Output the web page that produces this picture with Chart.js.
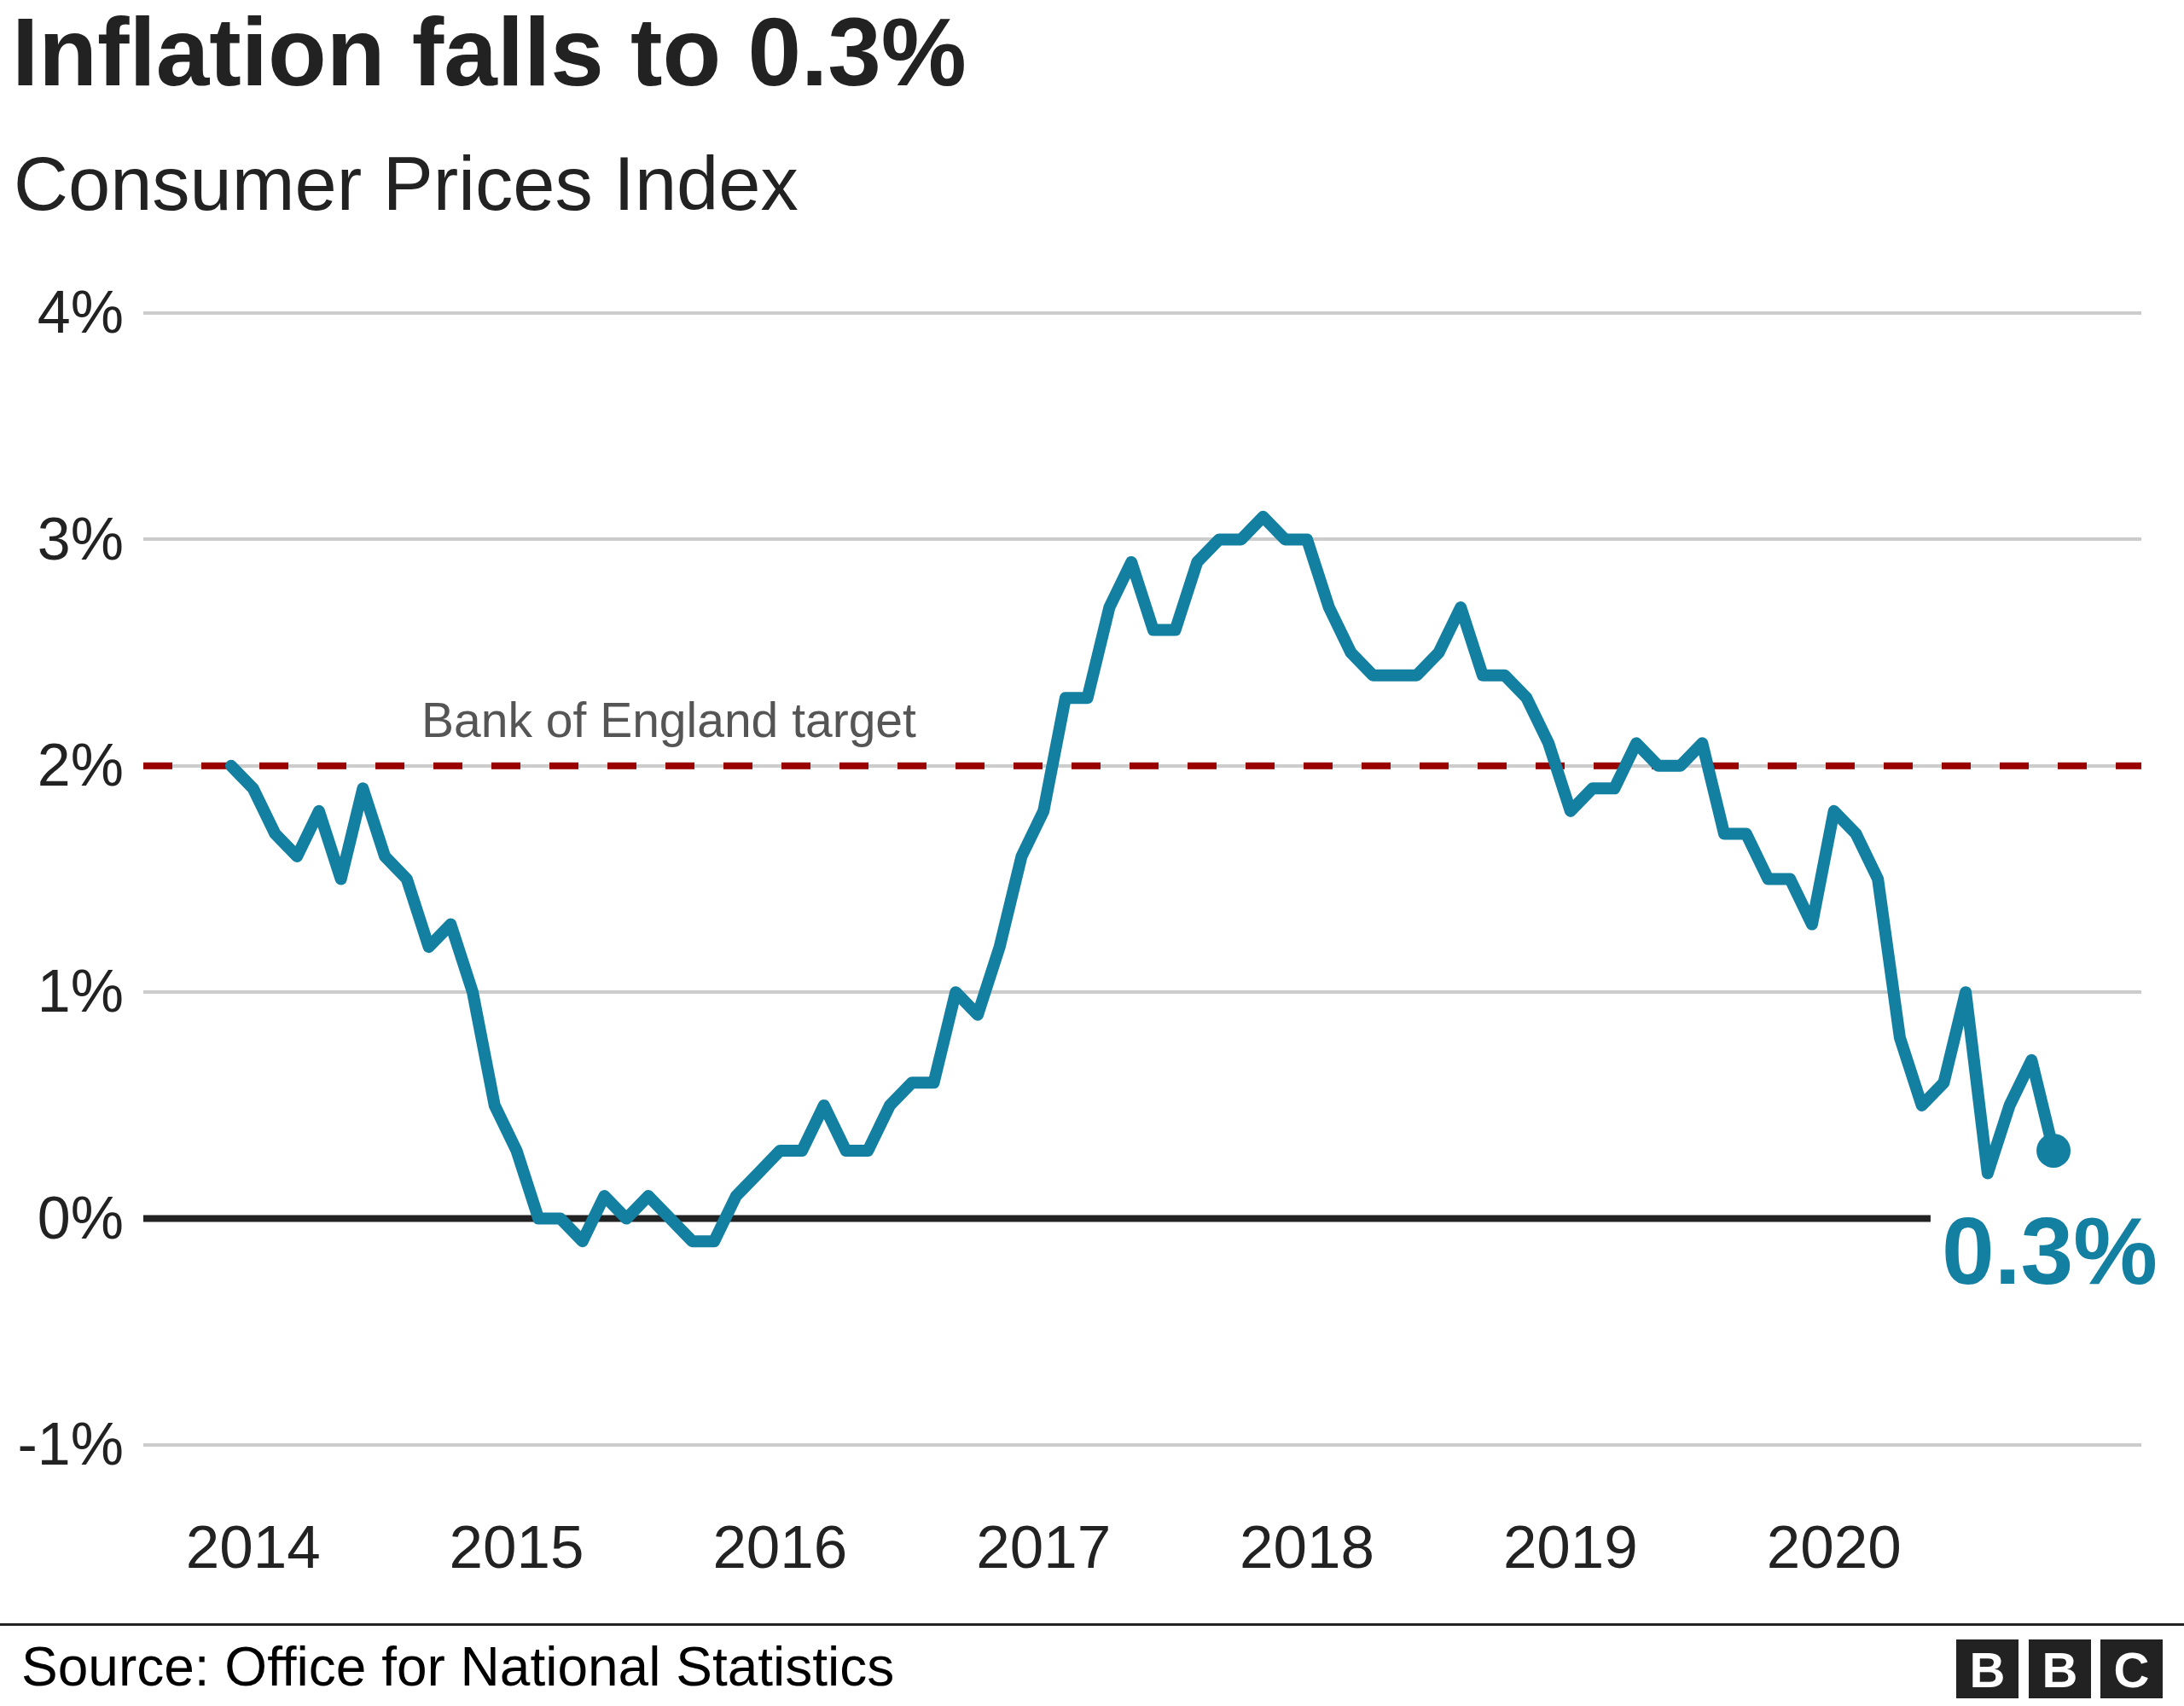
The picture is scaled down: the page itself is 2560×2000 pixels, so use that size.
<!DOCTYPE html>
<html>
<head>
<meta charset="utf-8">
<script src="https://cdn.jsdelivr.net/npm/chart.js@4.4.1/dist/chart.umd.min.js"></script>
<style>
  html, body { margin: 0; padding: 0; background: #ffffff; }
  body { width: 2560px; height: 2000px; position: relative; overflow: hidden;
         font-family: "Liberation Sans", Arial, Helvetica, sans-serif; }
  #wrap { position: absolute; left: 0; top: 0; width: 2560px; height: 2000px; }
  .t { position: absolute; white-space: nowrap; line-height: 1; }
  .bbc { position: absolute; top: 1922px; width: 73px; height: 69px; background: #222222;
         color: #ffffff; font-weight: bold; font-size: 58px; line-height: 71px; text-align: center; }
</style>
</head>
<body>
<div id="wrap"><canvas id="c" width="2560" height="2000"></canvas></div>

<div class="t" style="left:14px; top:5px; font-size:112.5px; font-weight:bold; color:#222222;">Inflation falls to 0.3%</div>
<div class="t" style="left:16px; top:172px; font-size:88.5px; color:#222222;">Consumer Prices Index</div>
<div class="t" style="left:494px; top:816px; font-size:57px; color:#555555;">Bank of England target</div>
<div class="t" style="left:2276px; top:1412px; font-size:111px; font-weight:bold; color:#1380A1;">0.3%</div>

<div style="position:absolute; left:0; top:1903px; width:2560px; height:3px; background:#222222;"></div>
<div class="t" style="left:25px; top:1922px; font-size:64px; color:#000000;">Source: Office for National Statistics</div>
<div class="bbc" style="left:2293px;">B</div>
<div class="bbc" style="left:2378px;">B</div>
<div class="bbc" style="left:2462px;">C</div>

<script>
// ---- data ----
const months = [
  'Dec 2013',
  'Jan 2014','Feb 2014','Mar 2014','Apr 2014','May 2014','Jun 2014','Jul 2014','Aug 2014','Sep 2014','Oct 2014','Nov 2014','Dec 2014',
  'Jan 2015','Feb 2015','Mar 2015','Apr 2015','May 2015','Jun 2015','Jul 2015','Aug 2015','Sep 2015','Oct 2015','Nov 2015','Dec 2015',
  'Jan 2016','Feb 2016','Mar 2016','Apr 2016','May 2016','Jun 2016','Jul 2016','Aug 2016','Sep 2016','Oct 2016','Nov 2016','Dec 2016',
  'Jan 2017','Feb 2017','Mar 2017','Apr 2017','May 2017','Jun 2017','Jul 2017','Aug 2017','Sep 2017','Oct 2017','Nov 2017','Dec 2017',
  'Jan 2018','Feb 2018','Mar 2018','Apr 2018','May 2018','Jun 2018','Jul 2018','Aug 2018','Sep 2018','Oct 2018','Nov 2018','Dec 2018',
  'Jan 2019','Feb 2019','Mar 2019','Apr 2019','May 2019','Jun 2019','Jul 2019','Aug 2019','Sep 2019','Oct 2019','Nov 2019','Dec 2019',
  'Jan 2020','Feb 2020','Mar 2020','Apr 2020','May 2020','Jun 2020','Jul 2020','Aug 2020','Sep 2020','Oct 2020','Nov 2020'
];
const cpi = [
  2.0,
  1.9, 1.7, 1.6, 1.8, 1.5, 1.9, 1.6, 1.5, 1.2, 1.3, 1.0, 0.5,
  0.3, 0.0, 0.0, -0.1, 0.1, 0.0, 0.1, 0.0, -0.1, -0.1, 0.1, 0.2,
  0.3, 0.3, 0.5, 0.3, 0.3, 0.5, 0.6, 0.6, 1.0, 0.9, 1.2, 1.6,
  1.8, 2.3, 2.3, 2.7, 2.9, 2.6, 2.6, 2.9, 3.0, 3.0, 3.1, 3.0,
  3.0, 2.7, 2.5, 2.4, 2.4, 2.4, 2.5, 2.7, 2.4, 2.4, 2.3, 2.1,
  1.8, 1.9, 1.9, 2.1, 2.0, 2.0, 2.1, 1.7, 1.7, 1.5, 1.5, 1.3,
  1.8, 1.7, 1.5, 0.8, 0.5, 0.6, 1.0, 0.2, 0.5, 0.7, 0.3
];
const yearTickMonths = ['Jan 2014','Jan 2015','Jan 2016','Jan 2017','Jan 2018','Jan 2019','Jan 2020'];
const yearLabels = ['2014','2015','2016','2017','2018','2019','2020'];
const yTickValues = [-1, 0, 1, 2, 3, 4];
const targetRate = [2];
const baselineValue = [0];

// ---- options (positions/styles) ----
const X_MIN = -4, X_MAX = 87, ZERO_LINE_END = 77.4;
const FONT = '"Liberation Sans", Arial, Helvetica, sans-serif';
const BLUE = '#1380A1';

const cpiPoints = cpi.map((v, i) => ({ x: i, y: v }));
const tickIdx = yearTickMonths.map(m => months.indexOf(m));
const lastIdx = cpi.length - 1;

new Chart(document.getElementById('c'), {
  type: 'line',
  data: {
    datasets: [
      {
        label: 'CPI',
        data: cpiPoints,
        borderColor: BLUE,
        backgroundColor: BLUE,
        borderWidth: 14,
        borderJoinStyle: 'round',
        borderCapStyle: 'round',
        tension: 0,
        pointRadius: ctx => ctx.dataIndex === lastIdx ? 20 : 0,
        pointHoverRadius: ctx => ctx.dataIndex === lastIdx ? 20 : 0,
        pointBackgroundColor: BLUE,
        pointBorderWidth: 0,
        order: 0
      },
      {
        label: 'Zero',
        data: [{ x: X_MIN, y: baselineValue[0] }, { x: ZERO_LINE_END, y: baselineValue[0] }],
        borderColor: '#222222',
        borderWidth: 8,
        pointRadius: 0,
        borderCapStyle: 'butt',
        order: 1
      },
      {
        label: 'Target',
        data: [{ x: X_MIN, y: targetRate[0] }, { x: X_MAX, y: targetRate[0] }],
        borderColor: '#990000',
        borderWidth: 8,
        borderDash: [34, 34],
        pointRadius: 0,
        borderCapStyle: 'butt',
        order: 2
      }
    ]
  },
  options: {
    responsive: false,
    animation: false,
    devicePixelRatio: 1,
    layout: { padding: { left: 0, right: 50, top: 367, bottom: 106 } },
    plugins: { legend: { display: false }, tooltip: { enabled: false }, title: { display: false } },
    events: [],
    scales: {
      x: {
        type: 'linear',
        min: X_MIN,
        max: X_MAX,
        grid: { display: false, drawTicks: false },
        border: { display: false },
        afterBuildTicks: s => { s.ticks = tickIdx.map(v => ({ value: v })); },
        afterFit: s => { s.height = 200; },
        ticks: {
          autoSkip: false,
          maxRotation: 0,
          minRotation: 0,
          padding: 82,
          color: '#222222',
          font: { family: FONT, size: 71 },
          callback: v => { const i = tickIdx.indexOf(v); return i >= 0 ? yearLabels[i] : ''; }
        }
      },
      y: {
        type: 'linear',
        min: -1,
        max: 4,
        afterBuildTicks: s => { s.ticks = yTickValues.map(v => ({ value: v })); },
        afterFit: s => { s.width = 168; },
        grid: {
          drawTicks: false,
          lineWidth: 4,
          color: ctx => (ctx.tick && ctx.tick.value === 0) ? 'rgba(0,0,0,0)' : '#cccccc'
        },
        border: { display: false },
        ticks: {
          padding: 23,
          labelOffset: 4,
          color: '#222222',
          font: { family: FONT, size: 70 },
          callback: v => v + '%'
        }
      }
    }
  }
});
</script>
</body>
</html>
